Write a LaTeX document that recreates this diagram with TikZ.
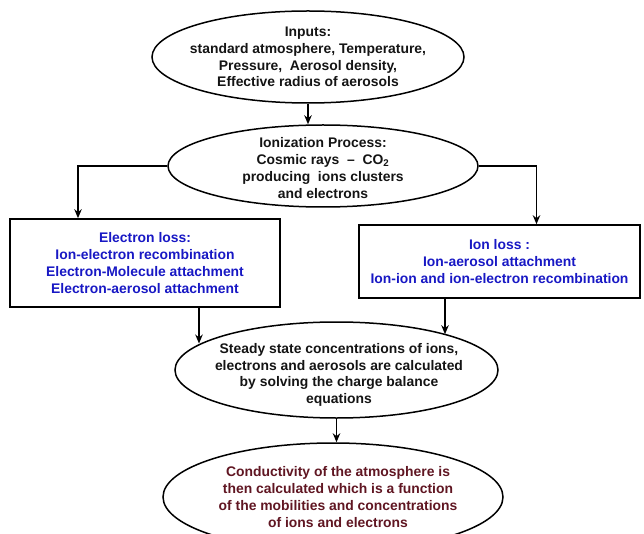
\documentclass[tikz,border=0pt]{standalone}
\usepackage{fontspec}
\setmainfont{Liberation Sans}
\usetikzlibrary{
  arrows.meta,
  shapes.geometric
}
\definecolor{flowblue}{RGB}{24,24,196}
\definecolor{flowred}{RGB}{96,22,34}
\definecolor{flowgray}{RGB}{20,20,20}
\newcommand{\flowfont}{\fontsize{13.9}{16.8}\selectfont\bfseries}
\tikzset{
  flowEllipse/.style={
    ellipse,
    draw=black,
    line width=1.5pt,
    inner sep=0pt
  },
  flowText/.style={
    align=center,
    inner sep=0pt,
    text=flowgray,
    font=\flowfont
  },
  flowBox/.style={
    rectangle,
    draw=black,
    line width=1.6pt,
    inner sep=0pt,
    align=center,
    text=flowblue,
    font=\flowfont
  },
  flowArrow/.style={
    -{Stealth[length=9pt,width=7.5pt]},
    line width=1.4pt,
    draw=black
  }
}

\begin{document}
\begin{tikzpicture}[x=1pt,y=-1pt]
  \clip (0,0) rectangle (644,534);

  \node[flowEllipse, minimum width=312pt, minimum height=92pt,
    label={[flowText]center:{Inputs:\\standard atmosphere, Temperature,\\Pressure, \ Aerosol density,\\Effective radius of aerosols}}]
    (inputs) at (308,57) {};

  \node[flowEllipse, minimum width=310pt, minimum height=82pt,
    label={[flowText, yshift=-2pt]center:{Ionization Process:\\Cosmic rays \ -- \ CO\textsubscript{2}\\producing \ ions clusters\\and electrons}}]
    (ionization) at (323,166) {};

  \node[flowBox, minimum width=270pt, minimum height=88pt]
    (eloss) at (145,263)
    {Electron loss:\\Ion-electron recombination\\Electron-Molecule attachment\\Electron-aerosol attachment};

  \node[flowBox, minimum width=281pt, minimum height=73pt]
    (iloss) at (499.5,261.5)
    {Ion loss :\\Ion-aerosol attachment\\Ion-ion and ion-electron recombination};

  \node[flowEllipse, minimum width=323pt, minimum height=96pt,
    label={[flowText, xshift=2.5pt, yshift=-5pt]center:{Steady state concentrations of ions,\\electrons and aerosols are calculated\\by solving the charge balance\\equations}}]
    (steady) at (336.5,370) {};

  \node[flowEllipse, minimum width=340pt, minimum height=108pt,
    label={[flowText, text=flowred, xshift=5pt]center:{Conductivity of the atmosphere is\\then calculated which is a function\\of the mobilities and concentrations\\of ions and electrons}}]
    (conduct) at (333,497) {};

  \draw[flowArrow] (inputs.south) -- (inputs.south |- ionization.north);
  \draw[flowArrow] (ionization.west) -| ([xshift=-67pt]eloss.north);
  \draw[flowArrow] (ionization.east) -| ([xshift=37pt]iloss.north);
  \draw[flowArrow] ([xshift=54pt]eloss.south) -- ([xshift=54pt]eloss.south |- steady.169.7);
  \draw[flowArrow] ([xshift=-54.5pt]iloss.south) -- ([xshift=-54.5pt]iloss.south |- steady.18.2);
  \draw[flowArrow] (steady.south) -- (steady.south |- conduct.north);
\end{tikzpicture}
\end{document}
